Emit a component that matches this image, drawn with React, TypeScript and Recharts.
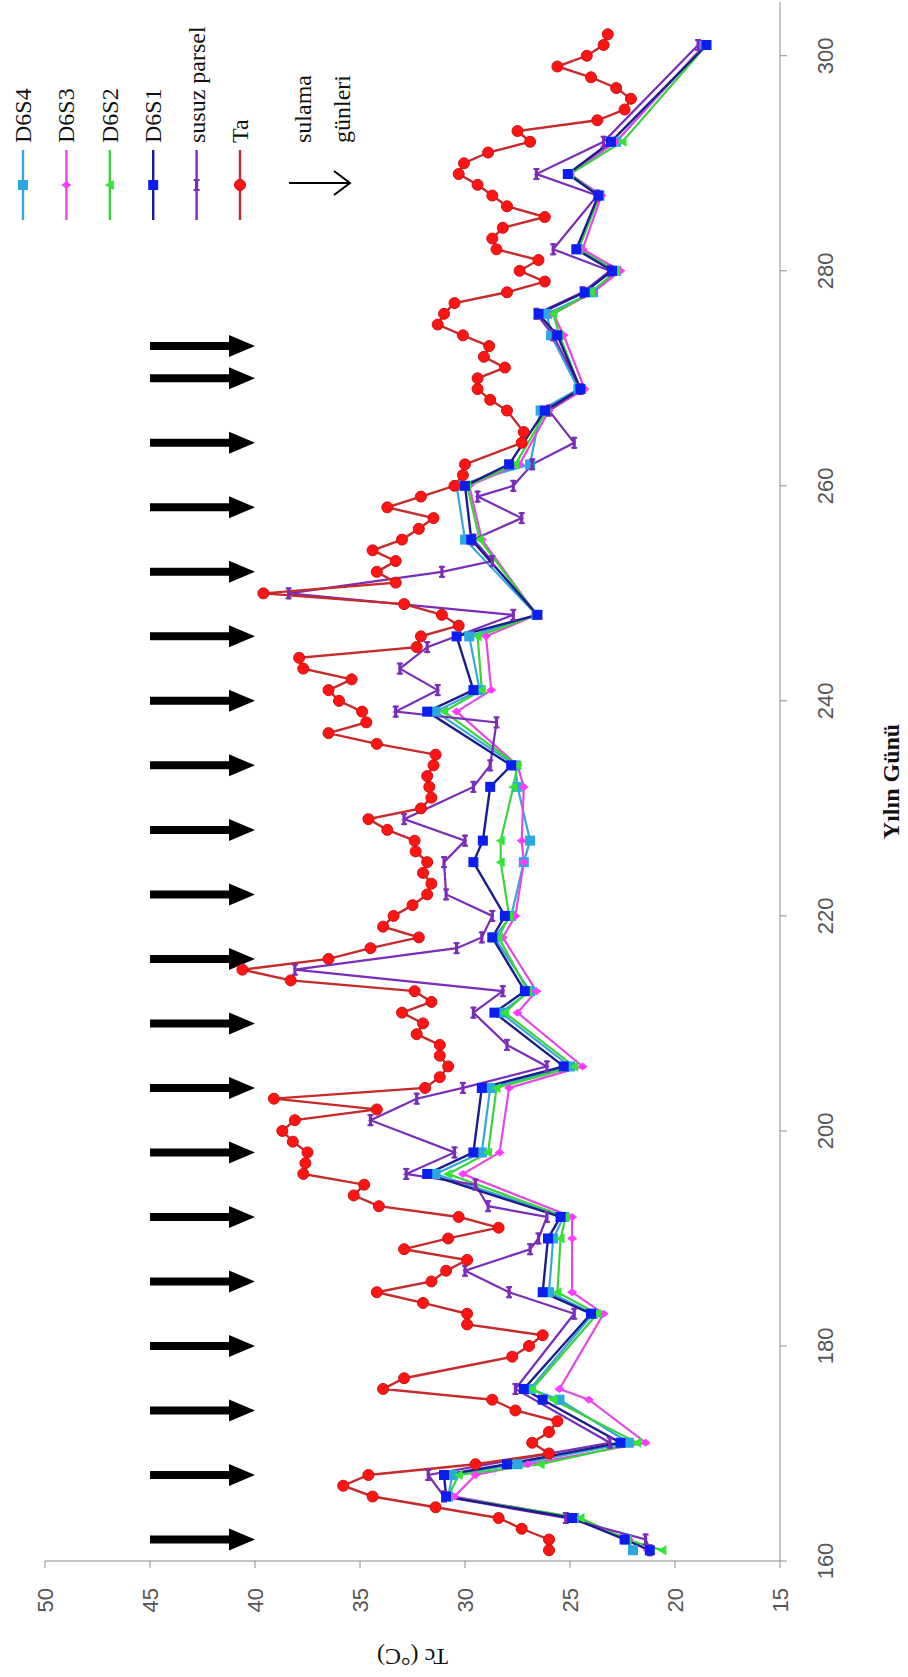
import React from 'react';
import { ComposedChart, Line, XAxis, YAxis, Scatter, Label } from 'recharts';

const W = 1677;
const H = 908;

const dayTicks = [160, 180, 200, 220, 240, 260, 280, 300];
const tcTicks = [15, 20, 25, 30, 35, 40, 45, 50];

const taDays = [
  161, 162, 163, 164, 165, 166, 167, 168, 169, 170, 171, 172, 173, 174, 175, 176, 177,
  179, 180, 181, 182, 183, 184, 185, 186, 187, 188, 189, 190, 191, 192, 193, 194, 195,
  196, 197, 198, 199, 200, 201, 202, 203, 204, 205, 206, 207, 208, 209, 210, 211, 212,
  213, 214, 215, 216, 217, 218, 219, 220, 221, 222, 223, 224, 225, 226, 227, 228, 229,
  230, 231, 232, 233, 234, 235, 236, 237, 238, 239, 240, 241, 242, 243, 244, 245, 246,
  247, 248, 249, 250, 251, 252, 253, 254, 255, 256, 257, 258, 259, 260, 261, 262, 264,
  265, 267, 268, 269, 270, 271, 272, 273, 274, 275, 276, 277, 278, 279, 280, 281, 282,
  283, 284, 285, 286, 287, 288, 289, 290, 291, 292, 293, 294, 295, 296, 297, 298, 299,
  300, 301, 302,
];
const taValues = [
  26.0, 26.0, 27.3, 28.4, 31.4, 34.4, 35.8, 34.6, 29.5, 26.0, 26.8, 26.0, 25.6, 27.6, 28.7, 33.9, 32.9,
  27.75, 26.95, 26.3, 29.9, 29.9, 32.0, 34.2, 31.6, 30.9, 29.9, 32.9, 30.8, 28.4, 30.3, 34.1, 35.3, 34.8,
  37.7, 37.6, 37.5, 38.2, 38.7, 38.1, 34.2, 39.1, 31.9, 31.2, 30.8, 31.2, 31.2, 32.3, 32.0, 33.0, 31.6,
  32.4, 38.3, 40.6, 36.5, 34.5, 32.2, 33.9, 33.4, 32.5, 31.8, 31.6, 32.0, 31.8, 32.35, 32.4, 33.7, 34.6,
  32.1, 31.6, 31.7, 31.8, 31.5, 31.4, 34.2, 36.5, 34.7, 34.9, 36.0, 36.5, 35.4, 37.7, 37.9, 32.3, 32.1,
  30.3, 31.1, 32.9, 39.6, 33.3, 34.2, 33.3, 34.4, 33.0, 32.2, 31.5, 33.7, 32.1, 30.5, 30.1, 30.0, 27.3,
  27.2, 28.0, 28.8, 29.4, 29.4, 28.1, 29.1, 28.85, 30.1, 31.3, 31.0, 30.5, 28.0, 26.2, 27.4, 26.5, 28.5,
  28.7, 28.2, 26.2, 28.0, 28.7, 29.4, 30.3, 30.05, 28.9, 26.9, 27.5, 23.7, 22.4, 22.1, 22.8, 24.0, 25.6,
  24.2, 23.4, 23.2,
];

const plotDays = [
  161, 162, 164, 166, 168, 169, 171, 175, 176, 183, 185, 190, 192, 196, 198, 204, 206, 211, 213,
  218, 220, 225, 227, 232, 234, 239, 241, 246, 248, 255, 260, 262, 267, 269, 274, 276, 278, 280,
  282, 287, 289, 292, 301,
];
const d6s1Values = [
  21.2, 22.4, 24.9, 30.9, 31.0, 28.0, 22.6, 26.3, 27.2, 24.0, 26.3, 26.05, 25.45, 31.8, 29.6, 29.2, 25.3, 28.6, 27.15,
  28.7, 28.1, 29.6, 29.15, 28.8, 27.8, 31.8, 29.6, 30.4, 26.55, 29.7, 30.0, 27.9, 26.2, 24.5, 25.6, 26.5, 24.3, 23.0,
  24.7, 23.65, 25.1, 23.05, 18.5,
];
const d6s2Values = [
  20.6, 22.3, 24.5, 30.8, 30.3, 26.4, 21.8, 25.8, 26.8, 23.7, 25.6, 25.45, 25.2, 30.8, 28.9, 28.5, 24.8, 28.1, 27.0,
  28.4, 27.9, 28.3, 28.3, 27.7, 27.5, 31.0, 29.2, 29.4, 26.6, 29.3, 29.9, 27.6, 26.1, 24.5, 25.5, 25.8, 24.0, 22.8,
  24.6, 23.6, 25.0, 22.5, 18.5,
];
const d6s3Values = [
  21.3, 22.2, 24.7, 30.5, 29.5, 27.0, 21.4, 24.1, 25.5, 23.4, 24.9, 24.9, 24.9, 30.1, 28.35, 27.9, 24.4, 27.5, 26.6,
  28.2, 27.6, 27.2, 27.3, 27.2, 27.5, 30.4, 28.75, 29.0, 26.6, 29.2, 29.8, 27.4, 26.0, 24.3, 25.3, 25.8, 23.9, 22.6,
  24.4, 23.5, 25.0, 22.8, 18.6,
];
const d6s4Values = [
  22.0, 22.3, 24.8, 30.8, 30.6, 27.5, 22.2, 25.5, 26.9, 23.9, 26.0, 25.8, 25.3, 31.4, 29.2, 28.8, 25.0, 28.3, 26.9,
  28.6, 27.8, 27.2, 26.9, 27.5, 27.6, 31.4, 29.3, 29.8, 26.6, 30.0, 30.4, 26.9, 26.4, 24.6, 25.9, 26.1, 23.9, 22.8,
  24.6, 23.6, 25.1, 22.8, 18.6,
];

const susuzDays = [
  161, 162, 164, 166, 168, 171, 176, 183, 185, 187, 189, 190, 192, 193, 195, 196, 198, 201, 203, 204,
  206, 208, 211, 213, 215, 217, 218, 220, 222, 225, 227, 229, 232, 234, 238, 239, 241, 243, 245, 248,
  250, 252, 253, 255, 257, 259, 260, 262, 264, 267, 269, 274, 276, 278, 280, 282, 287, 289, 292, 301,
];
const susuzValues = [
  21.2, 21.4, 25.2, 31.0, 31.75, 23.1, 27.6, 24.8, 27.9, 30.0, 26.9, 26.5, 26.1, 28.9, 29.5, 32.8, 30.5, 34.5, 32.3, 30.1,
  26.1, 28.0, 29.6, 28.2, 38.1, 30.4, 29.2, 28.7, 30.9, 31.0, 30.0, 32.9, 29.6, 28.8, 28.5, 33.3, 31.3, 33.1, 31.8, 27.7,
  38.4, 31.1, 28.7, 29.6, 27.3, 29.4, 27.7, 26.8, 24.8, 26.0, 24.5, 25.8, 26.6, 24.4, 23.1, 25.8, 23.7, 26.6, 23.4, 18.9,
];

const irrigationDays = [162, 168, 174, 180, 186, 192, 198, 204, 210, 216, 222, 228, 234, 240, 246, 252, 258, 264, 270, 273];
const arrowTipTc = 40;

const zip = (days: number[], vals: number[]) => days.map((d, i) => ({ day: d, tc: vals[i] }));

const taData = zip(taDays, taValues);
const d6s1Data = zip(plotDays, d6s1Values);
const d6s2Data = zip(plotDays, d6s2Values);
const d6s3Data = zip(plotDays, d6s3Values);
const d6s4Data = zip(plotDays, d6s4Values);
const susuzData = zip(susuzDays, susuzValues);
const arrowData = irrigationDays.map((d) => ({ day: d, tc: arrowTipTc }));

type MarkerKind = 'circle' | 'square' | 'diamond' | 'triangle' | 'dash';

const drawMarker = (kind: MarkerKind, cx: number, cy: number, fill: string, key?: string | number) => {
  switch (kind) {
    case 'circle':
      return <circle key={key} cx={cx} cy={cy} r={5.5} fill={fill} stroke="#d01010" strokeWidth={1} />;
    case 'square':
      return <rect key={key} x={cx - 5} y={cy - 5} width={10} height={10} fill={fill} />;
    case 'diamond':
      return <path key={key} d={`M${cx},${cy - 5} L${cx + 4},${cy} L${cx},${cy + 5} L${cx - 4},${cy} Z`} fill={fill} />;
    case 'triangle':
      return <path key={key} d={`M${cx},${cy - 5} L${cx + 5},${cy + 4} L${cx - 5},${cy + 4} Z`} fill={fill} />;
    case 'dash':
    default:
      return (
        <g key={key}>
          <rect x={cx - 6} y={cy - 1.6} width={12} height={3.2} fill={fill} />
          <rect x={cx - 6} y={cy - 3} width={2} height={6} fill={fill} />
          <rect x={cx + 4} y={cy - 3} width={2} height={6} fill={fill} />
        </g>
      );
  }
};

const makeDot = (kind: MarkerKind, fill: string) => (p: any) => {
  const k = `m-${p.index}`;
  if (p.cx == null || p.cy == null) return <g key={k} />;
  return drawMarker(kind, p.cx, p.cy, fill, k);
};

const series = [
  { name: 'D6S4', data: d6s4Data, stroke: '#35a7dc', width: 2.2, marker: 'square' as MarkerKind, fill: '#2aa8e0' },
  { name: 'D6S3', data: d6s3Data, stroke: '#e449e4', width: 2.2, marker: 'diamond' as MarkerKind, fill: '#ff3cff' },
  { name: 'D6S2', data: d6s2Data, stroke: '#3ad43a', width: 2.2, marker: 'triangle' as MarkerKind, fill: '#33e633' },
  { name: 'susuz parsel', data: susuzData, stroke: '#7a2db8', width: 2.2, marker: 'dash' as MarkerKind, fill: '#7a2db8' },
  { name: 'D6S1', data: d6s1Data, stroke: '#1c1c8c', width: 2.4, marker: 'square' as MarkerKind, fill: '#0a1ef0' },
  { name: 'Ta', data: taData, stroke: '#c62a2a', width: 2.4, marker: 'circle' as MarkerKind, fill: '#ff1414' },
];

const legendOrder = ['D6S4', 'D6S3', 'D6S2', 'D6S1', 'susuz parsel', 'Ta'];

const ArrowShape = (p: any) => {
  const { cx, cy } = p;
  if (cx == null || cy == null) return <g />;
  const len = 105;
  const headLen = 26;
  const headHalf = 11;
  const shaftHalf = 4;
  const d = `M${cx - shaftHalf},${cy - len} L${cx + shaftHalf},${cy - len} L${cx + shaftHalf},${cy - headLen} L${cx + headHalf},${cy - headLen} L${cx},${cy} L${cx - headHalf},${cy - headLen} L${cx - shaftHalf},${cy - headLen} Z`;
  return <path d={d} fill="#000" />;
};

const tickStyle = { fontSize: 22, fill: '#555', fontFamily: 'Liberation Sans, Arial, sans-serif' };

const Legend = () => {
  const lx1 = 1457;
  const lx2 = 1527;
  const tx = 1534;
  return (
    <svg width={W} height={H} style={{ position: 'absolute', left: 0, top: 0, pointerEvents: 'none' }}>
      {legendOrder.map((name, i) => {
        const s = series.find((q) => q.name === name)!;
        const y = 23 + i * 43.4;
        return (
          <g key={name}>
            <line x1={lx1} y1={y} x2={lx2} y2={y} stroke={s.stroke} strokeWidth={2.4} />
            {drawMarker(s.marker, (lx1 + lx2) / 2, y, s.fill)}
            <text x={tx} y={y} dominantBaseline="central" fontFamily="Liberation Serif, Times New Roman, serif" fontSize={24} fill="#111">
              {name}
            </text>
          </g>
        );
      })}
      <line x1={1494} y1={289} x2={1494} y2={350} stroke="#000" strokeWidth={2} />
      <polyline points="1482,334 1494,350 1506,334" fill="none" stroke="#000" strokeWidth={2} />
      <text x={tx} y={303} dominantBaseline="central" fontFamily="Liberation Serif, Times New Roman, serif" fontSize={24} fill="#111">
        sulama
      </text>
      <text x={tx} y={342} dominantBaseline="central" fontFamily="Liberation Serif, Times New Roman, serif" fontSize={24} fill="#111">
        günleri
      </text>
    </svg>
  );
};

export default function App() {
  return (
    <>
      <style>{'html,body{margin:0;overflow:hidden;background:#fff;}'}</style>
      <div
        style={{
          position: 'absolute',
          left: 0,
          top: 0,
          width: W,
          height: H,
          background: '#fff',
          transform: 'rotate(-90deg) translateX(-100%)',
          transformOrigin: '0 0',
        }}
      >
        <ComposedChart width={W} height={H} margin={{ top: 45, right: 2, bottom: 0, left: 0 }}>
          <XAxis
            dataKey="day"
            type="number"
            domain={[160, 305]}
            ticks={dayTicks}
            allowDataOverflow
            height={128}
            tickSize={7}
            tickMargin={30}
            tick={tickStyle}
            axisLine={{ stroke: '#8a8a8a' }}
            tickLine={{ stroke: '#8a8a8a' }}
          >
            <Label
              content={(props: any) => {
                const vb = props.viewBox || {};
                const cx = (vb.x ?? 116) + (vb.width ?? 1559) / 2;
                return (
                  <text x={cx} y={891} textAnchor="middle" dominantBaseline="central" fontFamily="Liberation Serif, Times New Roman, serif" fontWeight="bold" fontSize={24} fill="#111">
                    Yılın Günü
                  </text>
                );
              }}
            />
          </XAxis>
          <YAxis
            type="number"
            domain={[15, 50]}
            ticks={tcTicks}
            allowDataOverflow
            width={116}
            tickSize={7}
            tickMargin={20}
            tick={tickStyle}
            axisLine={{ stroke: '#8a8a8a' }}
            tickLine={{ stroke: '#8a8a8a' }}
          >
            <Label
              content={(props: any) => {
                const vb = props.viewBox || {};
                const cx = 20;
                const cy = (vb.y ?? 45) + (vb.height ?? 735) / 2;
                return (
                  <text x={cx} y={cy} transform={`rotate(-90 ${cx} ${cy})`} textAnchor="middle" dominantBaseline="central" fontFamily="Liberation Serif, Times New Roman, serif" fontSize={24} fill="#111">
                    Tc (°C)
                  </text>
                );
              }}
            />
          </YAxis>
          <Scatter data={arrowData} dataKey="tc" shape={ArrowShape} isAnimationActive={false} legendType="none" />
          {series.map((s) => (
            <Line
              key={s.name}
              name={s.name}
              data={s.data}
              dataKey="tc"
              type="linear"
              stroke={s.stroke}
              strokeWidth={s.width}
              dot={makeDot(s.marker, s.fill)}
              activeDot={false}
              isAnimationActive={false}
            />
          ))}
        </ComposedChart>
        <Legend />
      </div>
    </>
  );
}
